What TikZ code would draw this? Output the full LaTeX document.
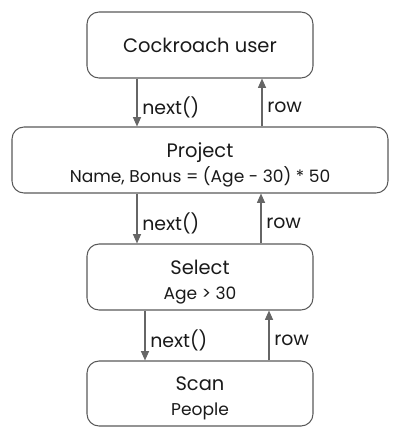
\documentclass[tikz,border=0pt]{standalone}
\usepackage{fontspec}
\setmainfont{Poppins}
\usepackage{tikz}
\usetikzlibrary{arrows.meta,calc,positioning}
\definecolor{borde}{HTML}{595959}
\definecolor{flechagris}{HTML}{666666}
\definecolor{tinta}{HTML}{1A1A1A}
\tikzset{
  caja/.style={draw=borde,rounded corners=9pt,line width=0.8pt,minimum height=49.5pt,text=tinta,align=center,inner sep=0pt,font=\fontsize{14.6}{18}\selectfont},
  flecha/.style={draw=flechagris,line width=0.9pt,-{Triangle[length=7pt,width=6pt]}},
  etiqueta/.style={font=\fontsize{14.2}{16}\selectfont,text=tinta,inner sep=0pt,anchor=west,xshift=3.5pt,yshift=-3.5pt},
}
\newcommand{\sublinea}[1]{\rule{0pt}{18pt}\\[1pt]{\fontsize{12.8}{14}\selectfont #1}}

\begin{document}
\begin{tikzpicture}[x=0.75pt,y=-0.75pt]
  \useasboundingbox (0,0) rectangle (400,436);
  \node[caja,minimum width=169.5pt] (usuario) at (200,45) {Cockroach user};
  \node[caja,minimum width=282pt] (proyecto) at (200,160) {Project\sublinea{Name, Bonus = (Age - 30) * 50}};
  \node[caja,minimum width=169.5pt] (seleccion) at (200,277) {Select\sublinea{Age > 30}};
  \node[caja,minimum width=169.5pt,minimum height=48.75pt] (escaneo) at (200,393.5) {Scan\sublinea{People}};
  % llamadas hacia abajo, filas hacia arriba
  \draw[flecha] ($(usuario.south)+(-63,0)$) coordinate (n1) -- (n1 |- proyecto.north)
    node[etiqueta,midway] {next()};
  \draw[flecha] ($(proyecto.north)+(62,0)$) coordinate (r1) -- (r1 |- usuario.south)
    node[etiqueta,midway] {row};
  \draw[flecha] ($(proyecto.south)+(-63,0)$) coordinate (n2) -- (n2 |- seleccion.north)
    node[etiqueta,midway] {next()};
  \draw[flecha] ($(seleccion.north)+(61,0)$) coordinate (r2) -- (r2 |- proyecto.south)
    node[etiqueta,midway] {row};
  \draw[flecha] ($(seleccion.south)+(-55,0)$) coordinate (n3) -- (n3 |- escaneo.north)
    node[etiqueta,midway] {next()};
  \draw[flecha] ($(escaneo.north)+(69,0)$) coordinate (r3) -- (r3 |- seleccion.south)
    node[etiqueta,midway] {row};
\end{tikzpicture}
\end{document}
